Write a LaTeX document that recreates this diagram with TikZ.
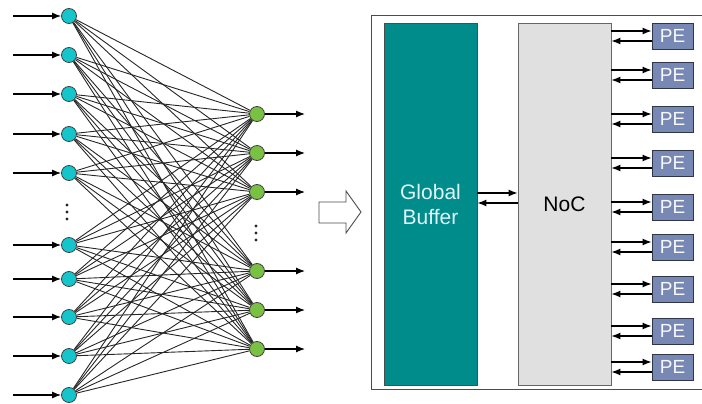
\documentclass[tikz,border=0pt]{standalone}
\usepackage{fontspec}
\setmainfont{Liberation Sans}
\usetikzlibrary{arrows.meta,calc,positioning,backgrounds}
\definecolor{cin}{RGB}{20,198,204}
\definecolor{cout}{RGB}{122,193,67}
\definecolor{cbuf}{RGB}{0,140,138}
\definecolor{cpe}{RGB}{120,136,180}
\tikzset{
  innode/.style={circle,fill=cin,draw=black!75,line width=0.8pt,
    minimum size=15pt,inner sep=0pt},
  outnode/.style={circle,fill=cout,draw=black!75,line width=0.8pt,
    minimum size=15pt,inner sep=0pt},
  wire/.style={black!85,line width=0.9pt},
  arr/.style={-{Latex[length=9pt,width=7pt]},line width=1.2pt},
  blk/.style={rectangle,minimum width=93pt,minimum height=362pt,
    line width=0.9pt,inner sep=0pt},
  pebox/.style={rectangle,fill=cpe,draw=black!60!cpe,line width=0.9pt,
    minimum width=41pt,minimum height=26pt,inner sep=0pt,
    text=white!94!cpe,font=\fontsize{19}{20}\selectfont},
  dot/.style={fill=black!85}
}
\begin{document}
\begin{tikzpicture}[x=1pt,y=-1pt]
  \useasboundingbox (0,0) rectangle (702,404);
  % fully connected layer: inputs on the left, outputs on the right
  \foreach \i/\y in {1/16,2/55,3/94,4/134,5/173,6/245,7/279,8/317,9/356,10/395} {
    \node[innode] (i\i) at (69,\y) {};
    \coordinate (s\i) at (13,\y);
    \draw[arr] (s\i) -- (i\i);
  }
  \foreach \j/\y in {1/114,2/153,3/192,4/271,5/310,6/349} {
    \node[outnode] (o\j) at (257,\y) {};
    \coordinate (t\j) at (305,\y);
    \draw[arr] (o\j) -- (t\j);
  }
  \begin{scope}[on background layer]
    \foreach \a in {1,...,10}
      \foreach \b in {1,...,6}
        \draw[wire] (i\a) -- (o\b);
  \end{scope}
  % vertical dots
  \foreach \d in {-7,0,7} {
    \fill[dot] (67,212+\d) circle (1.6);
    \fill[dot] (256,233+\d) circle (1.6);
  }
  % hollow arrow
  \draw[black!70,line width=0.9pt,fill=white] (319,202) -- (346,202) -- (346,191)
    -- (361,212) -- (346,233) -- (346,223) -- (319,223) -- cycle;
  % accelerator
  \draw[black!70,line width=0.9pt] (702,15) -| (371,389) -- (702,389);
  \node[blk,fill=cbuf,draw=black!70,text=white!88!cyan,align=center,
    font=\fontsize{21}{25}\selectfont] (buf) at (430.5,204) {Global\\Buffer};
  \node[blk,fill=black!12,draw=black!60,font=\fontsize{21}{25}\selectfont]
    (noc) at (564.5,204) {NoC};
  \draw[arr] ([yshift=11pt]buf.east) -- ([yshift=11pt]buf.east -| noc.west);
  \draw[arr] ([yshift=1pt]buf.east -| noc.west) -- ([yshift=1pt]buf.east);
  \foreach \k/\y in {1/36,2/75,3/119,4/163,5/207,6/247,7/289,8/331,9/367} {
    \node[pebox] (pe\k) at (672.5,\y) {PE};
    \draw[arr] ([yshift=5pt]pe\k.west -| noc.east) -- ([yshift=5pt]pe\k.west);
    \draw[arr] ([yshift=-5pt]pe\k.west) -- ([yshift=-5pt]pe\k.west -| noc.east);
  }
\end{tikzpicture}
\end{document}
